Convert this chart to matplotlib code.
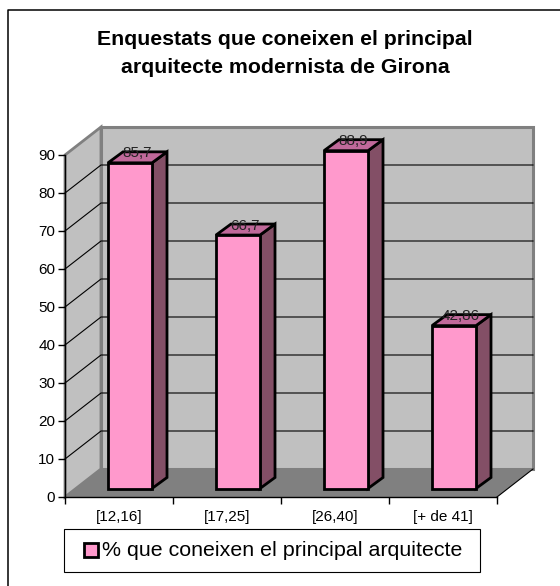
import matplotlib
matplotlib.use("Agg")
import matplotlib.pyplot as plt
from matplotlib.patches import Polygon, Rectangle
from matplotlib.lines import Line2D

plt.rcParams['font.family'] = ['Liberation Sans', 'DejaVu Sans']

categories = ["[12,16]", "[17,25]", "[26,40]", "[+ de 41]"]
values = [85.7, 66.7, 88.9, 42.86]
value_labels = ["85,7", "66,7", "88,9", "42,86"]
yticks = [0, 10, 20, 30, 40, 50, 60, 70, 80, 90]
title = "Enquestats que coneixen el principal\narquitecte modernista de Girona"
legend_label = "% que coneixen el principal arquitecte"

W, H = 560, 586
PINK = "#ff99cc"
SIDE = "#834f66"
TOP = "#c0699a"

fig = plt.figure(figsize=(W / 100, H / 100), dpi=100)

# chart frame, only top and left are inside the picture
fig.add_artist(Line2D([7.5 / W, 7.5 / W, 1], [0, 1 - 10 / H, 1 - 10 / H], color="black", lw=1.1))

# axes = the front plane of the 3d box
ax = fig.add_axes([65 / W, 1 - 497 / H, 432 / W, 342 / H])
ax.patch.set_visible(False)
ax.set_xlim(0, 4)
ax.set_ylim(0, 90)

# 3d offsets, converted from pixels to data units
px_x = 4 / 432
px_y = 90 / 342
dx = 36 * px_x
dy = 28 * px_y


def poly(pts, fc, ec="none", lw=0, z=1):
    ax.add_patch(Polygon(pts, closed=True, fc=fc, ec=ec, lw=lw, zorder=z, clip_on=False, joinstyle="miter"))


# walls and floor
poly([(0, 0), (dx, dy), (dx, 90 + dy), (0, 90)], "#c0c0c0", "#808080", 2, 1)
poly([(dx, dy), (4 + dx, dy), (4 + dx, 90 + dy), (dx, 90 + dy)], "#c0c0c0", "#808080", 2.2, 1)
poly([(0, 0), (dx, dy), (4 + dx, dy), (4, 0)], "#808080", z=1.5)

# gridlines
for v in yticks[1:-1]:
    ax.plot([0, dx, 4 + dx], [v, v + dy, v + dy], color="black", lw=0.8, zorder=2, clip_on=False)
ax.plot([4, 4 + dx], [0, dy], color="black", lw=0.8, zorder=2, clip_on=False)

# bars
bw = 44 * px_x
ox = 11 * px_x
oy = 8.5 * px_y
bdx = 15 * px_x
bdy = 11 * px_y
for i, v in enumerate(values):
    x0 = i + 0.5 - bw / 2 + ox
    x1 = x0 + bw
    y0 = oy
    y1 = v + oy
    poly([(x1, y0), (x1 + bdx, y0 + bdy), (x1 + bdx, y1 + bdy), (x1, y1)], SIDE, "black", 2, 3)
    poly([(x0, y1), (x1, y1), (x1 + bdx, y1 + bdy), (x0 + bdx, y1 + bdy)], TOP, "black", 2, 3)
    poly([(x0, y0), (x1, y0), (x1, y1), (x0, y1)], PINK, "black", 2, 4)
    ax.text((x0 + x1) / 2 + 7 * px_x, y1 + 2.5, value_labels[i], ha="center", va="center",
            fontsize=11, color="#222222", zorder=5, clip_on=False)

for s in ["top", "right"]:
    ax.spines[s].set_visible(False)
for s in ["left", "bottom"]:
    ax.spines[s].set_linewidth(1)
    ax.spines[s].set_zorder(6)
ax.set_yticks(yticks)
ax.set_xticks([0, 1, 2, 3, 4])
ax.set_xticklabels([])
ax.set_xticks([0.5, 1.5, 2.5, 3.5], categories, minor=True)
ax.tick_params(axis="y", length=5, width=1, pad=2, labelsize=11)
ax.tick_params(axis="x", which="major", length=5, width=1, direction="out")
ax.tick_params(axis="x", which="minor", length=0, pad=9, labelsize=11)

fig.text(285 / W, 1 - 53.5 / H, title, ha="center", va="center", fontsize=15.3, fontweight="bold",
         linespacing=1.65)

# legend
fig.add_artist(Rectangle((63.5 / W, 1 - 572 / H), 416.5 / W, 43 / H, transform=fig.transFigure,
                         fc="white", ec="black", lw=0.8))
fig.add_artist(Rectangle((84 / W, 1 - 556.5 / H), 13.5 / W, 13.5 / H, transform=fig.transFigure,
                         fc=PINK, ec="black", lw=2))
fig.text(102 / W, 1 - 550 / H, legend_label, ha="left", va="center", fontsize=15.4)

fig.savefig("out.png", dpi=100)
